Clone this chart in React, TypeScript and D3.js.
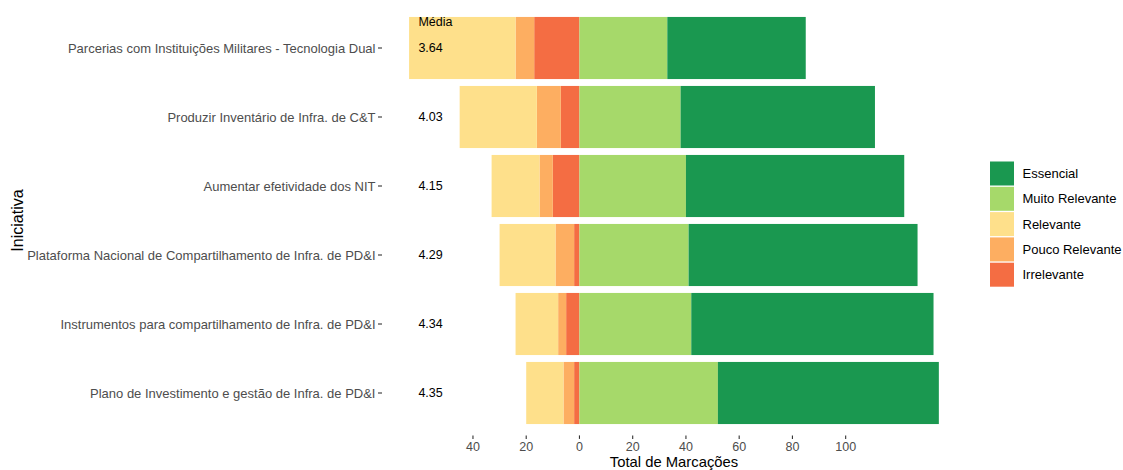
import React from "react";
import * as d3 from "d3";

const categories = [
  "Parcerias com Instituições Militares - Tecnologia Dual",
  "Produzir Inventário de Infra. de C&T",
  "Aumentar efetividade dos NIT",
  "Plataforma Nacional de Compartilhamento de Infra. de PD&I",
  "Instrumentos para compartilhamento de Infra. de PD&I",
  "Plano de Investimento e gestão de Infra. de PD&I",
];
const irrelevante = [17, 7, 10, 2, 5, 2];
const poucoRelevante = [7, 9, 5, 7, 3, 4];
const relevante = [40, 29, 18, 21, 16, 14];
const muitoRelevante = [33, 38, 40, 41, 42, 52];
const essencial = [52, 73, 82, 86, 91, 83];
const medias = ["3.64", "4.03", "4.15", "4.29", "4.34", "4.35"];
const xTicks = [-40, -20, 0, 20, 40, 60, 80, 100];

const levels = ["Essencial", "Muito Relevante", "Relevante", "Pouco Relevante", "Irrelevante"];
const colors: Record<string, string> = {
  Essencial: "#1a9850",
  "Muito Relevante": "#a6d96a",
  Relevante: "#fee08b",
  "Pouco Relevante": "#fdae61",
  Irrelevante: "#f46d43",
};

const W = 1123;
const H = 470;
const panel = { left: 382, right: 966, top: 6.6, bottom: 434.4 };
const FONT = "'Liberation Sans', Arial, sans-serif";

export default function App() {
  const x = d3.scaleLinear().domain([-74.17, 145.2]).range([panel.left, panel.right]);
  const y = d3
    .scaleBand<string>()
    .domain(categories)
    .range([13.5, 427.5])
    .paddingInner(0.1)
    .paddingOuter(0.05);
  const bw = y.bandwidth();

  const segs: { key: string; cat: string; x0: number; x1: number }[] = [];
  categories.forEach((c, i) => {
    let cum = 0;
    const left: [string, number][] = [
      ["Irrelevante", irrelevante[i]],
      ["Pouco Relevante", poucoRelevante[i]],
      ["Relevante", relevante[i]],
    ];
    left.forEach(([k, v]) => {
      segs.push({ key: k, cat: c, x0: -(cum + v), x1: -cum });
      cum += v;
    });
    cum = 0;
    const right: [string, number][] = [
      ["Muito Relevante", muitoRelevante[i]],
      ["Essencial", essencial[i]],
    ];
    right.forEach(([k, v]) => {
      segs.push({ key: k, cat: c, x0: cum, x1: cum + v });
      cum += v;
    });
  });

  const meanX = x(-60.5);
  const yc = (c: string) => (y(c) as number) + bw / 2;

  return (
    <svg
      width={W}
      height={H}
      style={{ position: "absolute", left: 0, top: 0, background: "#fff" }}
      fontFamily={FONT}
    >
      {segs.map((s, i) => (
        <rect
          key={i}
          x={x(s.x0)}
          y={y(s.cat)}
          width={x(s.x1) - x(s.x0)}
          height={bw}
          fill={colors[s.key]}
        />
      ))}
      <text x={meanX} y={yc(categories[0]) - 26.5} textAnchor="start" dominantBaseline="central" fontSize={12.5} fill="#000">
        Média
      </text>
      {categories.map((c, i) => (
        <text key={c} x={meanX} y={yc(c)} textAnchor="start" dominantBaseline="central" fontSize={12.5} fill="#000">
          {medias[i]}
        </text>
      ))}
      {categories.map((c) => (
        <g key={c}>
          <line x1={panel.left - 4} x2={panel.left} y1={yc(c)} y2={yc(c)} stroke="#333" strokeWidth={1.1} />
          <text x={panel.left - 6.5} y={yc(c)} textAnchor="end" dominantBaseline="central" fontSize={13} fill="#4d4d4d">
            {c}
          </text>
        </g>
      ))}
      {xTicks.map((t) => (
        <g key={t}>
          <line x1={x(t)} x2={x(t)} y1={panel.bottom + 1} y2={panel.bottom + 4.5} stroke="#333" strokeWidth={1.1} />
          <text x={x(t)} y={450.5} textAnchor="middle" fontSize={12.5} fill="#4d4d4d">
            {Math.abs(t)}
          </text>
        </g>
      ))}
      <text x={(panel.left + panel.right) / 2} y={466.8} textAnchor="middle" fontSize={14.8} fill="#000">
        Total de Marcações
      </text>
      <text
        transform={`translate(17,${(panel.top + panel.bottom) / 2}) rotate(-90)`}
        textAnchor="middle"
        dominantBaseline="central"
        fontSize={16}
        fill="#000"
      >
        Iniciativa
      </text>
      {levels.map((l, i) => (
        <g key={l} transform={`translate(990,${161.5 + i * 25.3})`}>
          <rect x={0} y={0} width={24} height={24} fill={colors[l]} />
          <text x={32.5} y={12} dominantBaseline="central" fontSize={13} fill="#000">
            {l}
          </text>
        </g>
      ))}
    </svg>
  );
}
